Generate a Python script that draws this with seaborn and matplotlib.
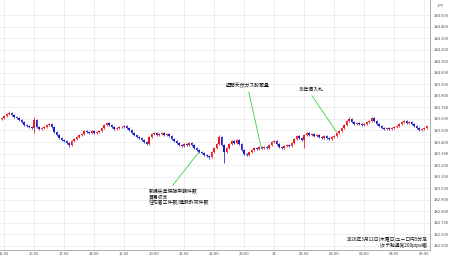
import numpy as np
import pandas as pd
import matplotlib
matplotlib.use("Agg")
import matplotlib.pyplot as plt
import matplotlib.dates as mdates
from matplotlib.transforms import Bbox, TransformedBbox, IdentityTransform
import seaborn as sns

# ---- data (EUR/JPY 5-minute candles) ----
start_time = "2026-03-12 14:55"
opens = [183.600, 183.609, 183.626, 183.643, 183.652, 183.635, 183.617, 183.609, 183.591, 183.574,
         183.548, 183.539, 183.531, 183.522, 183.591, 183.531, 183.513, 183.522, 183.531, 183.548,
         183.557, 183.531, 183.487, 183.461, 183.435, 183.418, 183.409, 183.392, 183.375, 183.409,
         183.427, 183.444, 183.461, 183.470, 183.496, 183.487, 183.479, 183.496, 183.479, 183.487,
         183.496, 183.522, 183.548, 183.565, 183.548, 183.531, 183.513, 183.522, 183.531, 183.530,
         183.539, 183.522, 183.505, 183.479, 183.461, 183.444, 183.435, 183.418, 183.401, 183.383,
         183.444, 183.470, 183.479, 183.461, 183.470, 183.479, 183.461, 183.470, 183.453, 183.427,
         183.409, 183.392, 183.375, 183.366, 183.383, 183.375, 183.392, 183.375, 183.349, 183.331,
         183.314, 183.305, 183.288, 183.280, 183.271, 183.314, 183.349, 183.383, 183.444, 183.375,
         183.314, 183.349, 183.383, 183.409, 183.392, 183.418, 183.383, 183.331, 183.297, 183.288,
         183.314, 183.331, 183.349, 183.340, 183.358, 183.349, 183.358, 183.349, 183.375, 183.401,
         183.409, 183.383, 183.358, 183.349, 183.366, 183.375, 183.366, 183.392, 183.427, 183.453,
         183.435, 183.418, 183.461, 183.479, 183.461, 183.470, 183.453, 183.461, 183.444, 183.435,
         183.453, 183.435, 183.427, 183.444, 183.453, 183.479, 183.496, 183.522, 183.548, 183.583,
         183.600, 183.574, 183.557, 183.565, 183.557, 183.548, 183.557, 183.574, 183.583, 183.609,
         183.583, 183.557, 183.539, 183.522, 183.513, 183.522, 183.513, 183.522, 183.531, 183.539,
         183.557, 183.574, 183.583, 183.565, 183.574, 183.557, 183.539, 183.522, 183.505, 183.513,
         183.522]
closes = [183.609, 183.626, 183.643, 183.652, 183.635, 183.617, 183.609, 183.591, 183.574, 183.548,
          183.539, 183.531, 183.522, 183.591, 183.531, 183.513, 183.522, 183.531, 183.548, 183.557,
          183.531, 183.487, 183.461, 183.435, 183.418, 183.409, 183.392, 183.375, 183.409, 183.427,
          183.444, 183.461, 183.470, 183.496, 183.487, 183.479, 183.496, 183.479, 183.487, 183.496,
          183.522, 183.548, 183.565, 183.548, 183.531, 183.513, 183.522, 183.531, 183.530, 183.539,
          183.522, 183.505, 183.479, 183.461, 183.444, 183.435, 183.418, 183.401, 183.383, 183.444,
          183.470, 183.479, 183.461, 183.470, 183.479, 183.461, 183.470, 183.453, 183.427, 183.409,
          183.392, 183.375, 183.366, 183.383, 183.375, 183.392, 183.375, 183.349, 183.331, 183.314,
          183.305, 183.288, 183.280, 183.271, 183.314, 183.349, 183.383, 183.444, 183.375, 183.314,
          183.349, 183.383, 183.409, 183.392, 183.418, 183.383, 183.331, 183.297, 183.288, 183.314,
          183.331, 183.349, 183.340, 183.358, 183.349, 183.358, 183.349, 183.375, 183.401, 183.409,
          183.383, 183.358, 183.349, 183.366, 183.375, 183.366, 183.392, 183.427, 183.453, 183.435,
          183.418, 183.461, 183.479, 183.461, 183.470, 183.453, 183.461, 183.444, 183.435, 183.453,
          183.435, 183.427, 183.444, 183.453, 183.479, 183.496, 183.522, 183.548, 183.583, 183.600,
          183.574, 183.557, 183.565, 183.557, 183.548, 183.557, 183.574, 183.583, 183.609, 183.583,
          183.557, 183.539, 183.522, 183.513, 183.522, 183.513, 183.522, 183.531, 183.539, 183.557,
          183.574, 183.583, 183.565, 183.574, 183.557, 183.539, 183.522, 183.505, 183.513, 183.522,
          183.539]
highs = [183.618, 183.635, 183.652, 183.665, 183.661, 183.644, 183.626, 183.618, 183.600, 183.583,
         183.557, 183.548, 183.540, 183.617, 183.600, 183.540, 183.531, 183.540, 183.557, 183.566,
         183.566, 183.540, 183.496, 183.470, 183.444, 183.427, 183.418, 183.401, 183.418, 183.436,
         183.453, 183.470, 183.479, 183.505, 183.505, 183.496, 183.505, 183.505, 183.496, 183.505,
         183.531, 183.557, 183.574, 183.574, 183.557, 183.540, 183.531, 183.540, 183.540, 183.548,
         183.548, 183.531, 183.514, 183.488, 183.470, 183.453, 183.444, 183.427, 183.410, 183.453,
         183.479, 183.488, 183.488, 183.479, 183.488, 183.488, 183.479, 183.479, 183.462, 183.436,
         183.418, 183.401, 183.384, 183.392, 183.392, 183.401, 183.401, 183.384, 183.358, 183.340,
         183.323, 183.314, 183.297, 183.289, 183.323, 183.358, 183.392, 183.461, 183.453, 183.384,
         183.358, 183.392, 183.418, 183.418, 183.427, 183.427, 183.392, 183.340, 183.306, 183.323,
         183.340, 183.358, 183.358, 183.367, 183.367, 183.367, 183.367, 183.384, 183.410, 183.418,
         183.418, 183.392, 183.367, 183.375, 183.384, 183.384, 183.401, 183.436, 183.462, 183.462,
         183.444, 183.470, 183.488, 183.488, 183.479, 183.479, 183.470, 183.470, 183.453, 183.462,
         183.462, 183.444, 183.453, 183.462, 183.488, 183.505, 183.531, 183.557, 183.592, 183.617,
         183.609, 183.583, 183.574, 183.574, 183.566, 183.566, 183.583, 183.592, 183.618, 183.618,
         183.592, 183.566, 183.548, 183.531, 183.531, 183.531, 183.531, 183.540, 183.548, 183.566,
         183.583, 183.592, 183.592, 183.583, 183.583, 183.566, 183.548, 183.531, 183.522, 183.531,
         183.548]
lows = [183.591, 183.600, 183.617, 183.634, 183.626, 183.608, 183.600, 183.582, 183.565, 183.539,
        183.530, 183.522, 183.513, 183.479, 183.522, 183.504, 183.504, 183.513, 183.522, 183.539,
        183.522, 183.478, 183.452, 183.426, 183.409, 183.400, 183.383, 183.358, 183.366, 183.400,
        183.418, 183.435, 183.452, 183.461, 183.478, 183.470, 183.470, 183.470, 183.470, 183.478,
        183.487, 183.513, 183.539, 183.539, 183.522, 183.504, 183.504, 183.513, 183.521, 183.521,
        183.513, 183.496, 183.470, 183.452, 183.435, 183.426, 183.409, 183.392, 183.374, 183.374,
        183.435, 183.461, 183.452, 183.452, 183.461, 183.452, 183.452, 183.444, 183.418, 183.400,
        183.383, 183.366, 183.357, 183.357, 183.366, 183.366, 183.366, 183.340, 183.322, 183.305,
        183.296, 183.279, 183.271, 183.253, 183.262, 183.305, 183.340, 183.374, 183.366, 183.219,
        183.305, 183.340, 183.374, 183.383, 183.383, 183.374, 183.322, 183.288, 183.279, 183.279,
        183.305, 183.322, 183.331, 183.331, 183.340, 183.340, 183.340, 183.340, 183.366, 183.392,
        183.374, 183.349, 183.340, 183.340, 183.357, 183.357, 183.357, 183.383, 183.418, 183.426,
        183.409, 183.349, 183.452, 183.452, 183.452, 183.444, 183.444, 183.435, 183.426, 183.426,
        183.426, 183.418, 183.418, 183.435, 183.444, 183.470, 183.487, 183.513, 183.539, 183.574,
        183.565, 183.548, 183.548, 183.548, 183.539, 183.539, 183.548, 183.565, 183.574, 183.574,
        183.548, 183.530, 183.513, 183.504, 183.504, 183.504, 183.504, 183.513, 183.522, 183.530,
        183.548, 183.565, 183.556, 183.556, 183.548, 183.530, 183.513, 183.496, 183.496, 183.504,
        183.513]

y_ticks = [182.5, 182.6, 182.7, 182.8, 182.9, 183.0, 183.1, 183.2, 183.3, 183.4, 183.5,
           183.6, 183.7, 183.8, 183.9, 184.0, 184.1, 184.2, 184.3, 184.4, 184.5]
x_tick_labels = ["15:00", "16:00", "17:00", "18:00", "19:00", "20:00", "21:00", "22:00",
                 "23:00", "13", "01:00", "02:00", "03:00", "04:00", "05:00"]
ann_gas = "週間天然ガス貯蔵量"
ann_bond = "30年債入札"
ann_us = "新規失業保険申請件数\n貿易収支\n住宅着工件数/建設許可件数"
caption1 = "2026年3月12日(木曜日)ユーロ円5分足"
caption2 = "(タテ軸通常200pips幅)"

# ---- style ----
sns.set_theme(style="white")
plt.rcParams["font.family"] = ["Noto Sans CJK JP", "DejaVu Sans"]

W, H = 450, 258
fig = plt.figure(figsize=(W / 100, H / 100), dpi=100)
fig.patch.set_facecolor("white")
ax = fig.add_axes([0, 8 / H, 430 / W, 250 / H])
ax.set_facecolor("white")

df = pd.DataFrame({"time": pd.date_range(start_time, periods=len(closes), freq="5min"),
                   "open": opens, "high": highs, "low": lows, "close": closes})
df["up"] = df["close"] >= df["open"]
t = mdates.date2num(df["time"])
up_col, dn_col = "#e8191f", "#1c1cc8"
colors = np.where(df["up"], up_col, dn_col)

bar_w = 5 / 1440 * 0.72
ax.vlines(t, df["low"], df["high"], colors=colors, linewidth=0.55, zorder=3)
body_bottom = np.minimum(df["open"], df["close"])
body_h = np.maximum(np.abs(df["close"] - df["open"]), 0.002)
ax.bar(t, body_h, bottom=body_bottom, width=bar_w, color=colors, linewidth=0, zorder=4)

# axes ranges
t0 = pd.Timestamp("2026-03-12 15:00")
hour_ticks = [t0 + pd.Timedelta(hours=h) for h in range(len(x_tick_labels))]
ax.set_xlim(mdates.date2num(t0 - pd.Timedelta(minutes=8)),
            mdates.date2num(t0 + pd.Timedelta(minutes=852)))
ax.set_ylim(182.465, 184.630)

ax.set_xticks(mdates.date2num(hour_ticks))
ax.set_xticklabels(x_tick_labels)
ax.set_yticks(y_ticks)
ax.set_yticklabels([f"{v:.3f}" for v in y_ticks])
ax.yaxis.tick_right()
ax.tick_params(axis="x", length=0, pad=1.2, labelsize=3.0, labelcolor="#505050")
ax.tick_params(axis="y", length=0, pad=3, labelsize=3.0, labelcolor="#505050")
for lbl in ax.get_yticklabels():
    lbl.set_horizontalalignment("left")

ax.grid(True, color="#ebebef", linewidth=0.6)
ax.set_axisbelow(True)
for s in ["top", "left"]:
    ax.spines[s].set_visible(False)
for s in ["right", "bottom"]:
    ax.spines[s].set_color("#a0a0a0")
    ax.spines[s].set_linewidth(0.6)

# clip x labels at the right spine
clip = TransformedBbox(Bbox([[0, 0], [430, H]]), IdentityTransform())
for lbl in ax.get_xticklabels():
    lbl.set_clip_box(clip)
    lbl.set_clip_on(True)

green = "#3ecf3e"
fs_ann = 3.5
ax.annotate(ann_gas, xy=(t[104], df["low"][104]), xytext=(248 / 430, 1 - 86 / 250),
            textcoords="axes fraction", ha="center", va="center", fontsize=fs_ann, color="#111111",
            arrowprops=dict(arrowstyle="-", color=green, lw=0.6, relpos=(0.5, 0.0),
                            shrinkA=0, shrinkB=0), zorder=6)
ax.annotate(ann_bond, xy=(t[134], df["high"][134]), xytext=(311 / 430, 1 - 90 / 250),
            textcoords="axes fraction", ha="center", va="center", fontsize=fs_ann, color="#111111",
            arrowprops=dict(arrowstyle="-", color=green, lw=0.6, relpos=(0.45, 0.0),
                            shrinkA=0, shrinkB=0), zorder=6)
ax.annotate(ann_us, xy=(t[79], df["close"][79]), xytext=(149 / 430, 1 - 197 / 250),
            textcoords="axes fraction", ha="left", va="center", fontsize=fs_ann, color="#111111",
            linespacing=1.15,
            arrowprops=dict(arrowstyle="-", color=green, lw=0.6, relpos=(0.35, 1.0),
                            shrinkA=0, shrinkB=0), zorder=6)

ax.text(428 / 430, 1 - 239 / 250, caption1, transform=ax.transAxes, ha="right", va="center",
        fontsize=3.4, color="#111111", zorder=6)
ax.text(428 / 430, 1 - 245 / 250, caption2, transform=ax.transAxes, ha="right", va="center",
        fontsize=3.4, color="#111111", zorder=6)

fig.text(437 / W, 1 - 6 / H, "JPY", ha="left", va="center", fontsize=3.0, color="#444444")

fig.savefig("out.png", dpi=100, facecolor="white")
